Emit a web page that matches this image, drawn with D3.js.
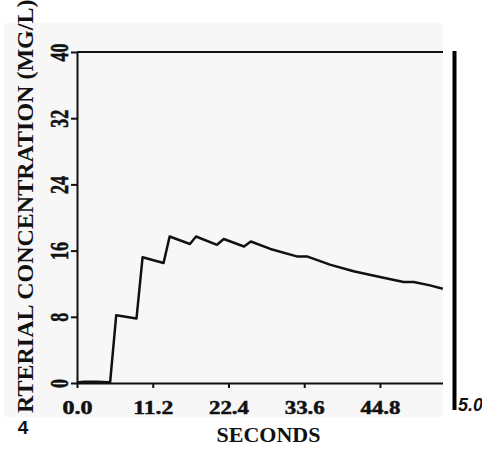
<!DOCTYPE html>
<!-- Load d3.js -->
<script src="https://d3js.org/d3.v7.min.js"></script>
<style>
  body { margin: 0; background: #fff; }
</style>
<div id="svg_div"></div>
<script>
  // data
  var seconds = [0, 1, 3, 4.7, 4.9, 5.8, 8.8, 9.7, 12.8, 13.7, 16.7, 17.6, 20.7, 21.7, 24.7, 25.7, 28.6, 32.5, 34.0, 37.4, 40.9, 44.8, 48.3, 49.8, 52.2, 54.1];
  var conc = [0.05, 0.15, 0.15, 0.1, 0.1, 8.2, 7.8, 15.2, 14.5, 17.7, 16.8, 17.7, 16.7, 17.4, 16.5, 17.1, 16.2, 15.3, 15.3, 14.3, 13.5, 12.8, 12.2, 12.2, 11.8, 11.4];
  var xTicks = [0, 11.2, 22.4, 33.6, 44.8];
  var yTicks = [0, 8, 16, 24, 32, 40];

  var width = 482, height = 456;
  var svg = d3.select("#svg_div").append("svg").attr("width", width).attr("height", height);

  // scanned page area (light gray)
  svg.append("rect").attr("x", 4).attr("y", 23).attr("width", 439).attr("height", 394).style("fill", "#f7f7f7");

  svg.append("clipPath").attr("id", "crop")
    .append("rect").attr("x", 0).attr("y", 0).attr("width", 443).attr("height", height);

  var x = d3.scaleLinear().domain([0, 56]).range([77, 455.7]);
  var y = d3.scaleLinear().domain([0, 40]).range([383, 52]);

  var g = svg.append("g").attr("clip-path", "url(#crop)");

  // top border at 40
  g.append("line").attr("x1", x(0)).attr("x2", x(56)).attr("y1", y(40)).attr("y2", y(40))
    .style("stroke", "#111").style("stroke-width", 2);

  // x axis
  var xAxis = g.append("g").attr("transform", "translate(0," + y(0) + ")")
    .call(d3.axisBottom(x).tickValues(xTicks).tickSize(5).tickSizeOuter(0).tickFormat(d3.format(".1f")));
  xAxis.select(".domain").style("stroke", "#111").style("stroke-width", 2);
  xAxis.selectAll(".tick line").style("stroke", "#111").style("stroke-width", 2);
  xAxis.selectAll(".tick text")
    .attr("y", 31)
    .attr("dy", 0)
    .attr("textLength", function(d) { return d3.format(".1f")(d).length * 10; })
    .attr("lengthAdjust", "spacingAndGlyphs")
    .style("font-family", "'Liberation Serif', serif")
    .style("font-weight", "bold")
    .style("font-size", "19px")
    .style("fill", "#111")
    .style("stroke", "#111").style("stroke-width", 0.5);

  // y axis
  var yAxis = svg.append("g").attr("transform", "translate(" + x(0) + ",0)")
    .call(d3.axisLeft(y).tickValues(yTicks).tickSize(6).tickSizeOuter(0).tickFormat(d3.format("d")));
  yAxis.select(".domain").style("stroke", "#111").style("stroke-width", 2);
  yAxis.selectAll(".tick line").style("stroke", "#111").style("stroke-width", 2);
  yAxis.selectAll(".tick text")
    .attr("x", null).attr("dy", null)
    .attr("transform", "translate(-9,0) rotate(-90)")
    .attr("text-anchor", "middle")
    .attr("textLength", function(d) { return String(d).length * 9; })
    .attr("lengthAdjust", "spacingAndGlyphs")
    .style("font-family", "'Liberation Serif', serif")
    .style("font-weight", "bold")
    .style("font-size", "26px")
    .style("fill", "#111")
    .style("stroke", "#111").style("stroke-width", 0.6);

  // concentration curve
  var line = d3.line()
    .x(function(d, i) { return x(seconds[i]); })
    .y(function(d) { return y(d); });
  g.append("path").datum(conc).attr("d", line)
    .style("fill", "none").style("stroke", "#111").style("stroke-width", 2.5)
    .style("stroke-linejoin", "round");

  // axis titles
  svg.append("text").text("SECONDS")
    .attr("x", 268.5).attr("y", 442)
    .attr("text-anchor", "middle")
    .style("font-family", "'Liberation Serif', serif")
    .style("font-weight", "bold")
    .style("font-size", "22px")
    .style("fill", "#111");

  svg.append("text").text("RTERIAL CONCENTRATION (MG/L)")
    .attr("transform", "translate(33,413) rotate(-90)")
    .style("font-family", "'Liberation Serif', serif")
    .style("font-weight", "bold")
    .style("font-size", "24px")
    .style("fill", "#111");

  // neighbouring panel edge and stray labels from the page
  svg.append("line").attr("x1", 454.5).attr("x2", 454.5).attr("y1", 51).attr("y2", 410)
    .style("stroke", "#000").style("stroke-width", 4);
  svg.append("text").text("5.0")
    .attr("x", 458).attr("y", 411)
    .style("font-family", "'Liberation Sans', sans-serif")
    .style("font-weight", "bold").style("font-style", "italic")
    .style("font-size", "18px").style("fill", "#111");
  svg.append("text").text("4")
    .attr("x", 23).attr("y", 434).attr("text-anchor", "middle")
    .style("font-family", "'Liberation Sans', sans-serif")
    .style("font-weight", "bold")
    .style("font-size", "19px").style("fill", "#111");
</script>
